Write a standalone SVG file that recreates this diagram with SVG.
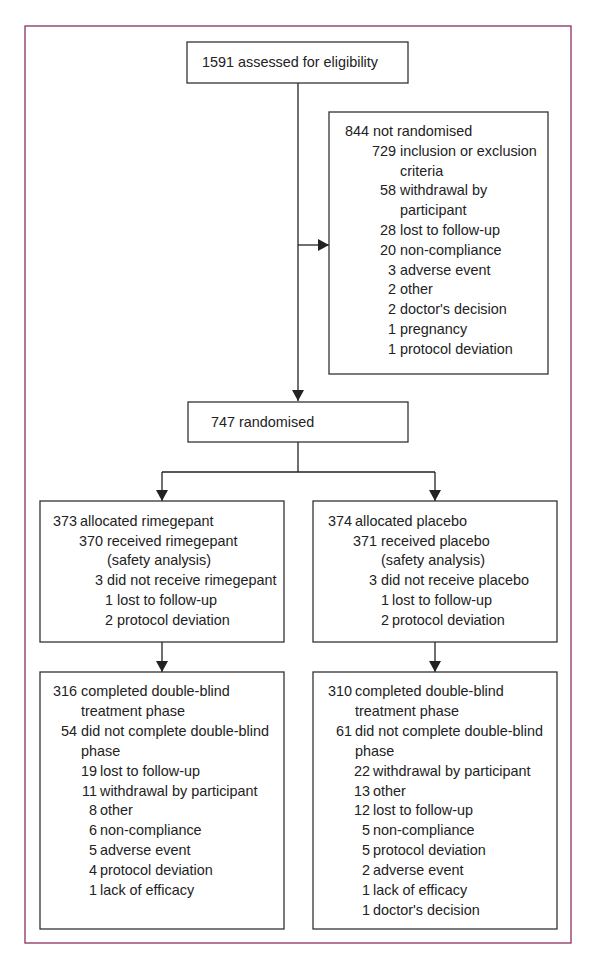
<svg xmlns="http://www.w3.org/2000/svg" width="590" height="955" viewBox="0 0 590 955">
<style>
.frame{fill:none;stroke:#8a2f62;stroke-width:1.3}
.box{fill:#fff;stroke:#333;stroke-width:1.3}
.ln{fill:none;stroke:#222;stroke-width:1.3}
text{font-family:"Liberation Sans",Arial,sans-serif;font-size:14.4px;fill:#222}
.n{text-anchor:end}
</style>
<defs>
<marker id="ah" markerUnits="userSpaceOnUse" markerWidth="12" markerHeight="12" refX="11" refY="6" orient="auto">
<path d="M0,0 L11,6 L0,12 Z" fill="#222"/>
</marker>
</defs>
<rect width="590" height="955" fill="#fff"/>
<rect class="frame" x="25" y="26" width="546" height="917"/>

<g id="connectors">
<line class="ln" x1="298" y1="83" x2="298" y2="401" marker-end="url(#ah)"/>
<line class="ln" x1="298" y1="245" x2="329" y2="245" marker-end="url(#ah)"/>
<line class="ln" x1="298" y1="442" x2="298" y2="472"/>
<line class="ln" x1="162" y1="472" x2="435" y2="472"/>
<line class="ln" x1="162" y1="472" x2="162" y2="501" marker-end="url(#ah)"/>
<line class="ln" x1="435" y1="472" x2="435" y2="501" marker-end="url(#ah)"/>
<line class="ln" x1="162" y1="642" x2="162" y2="672" marker-end="url(#ah)"/>
<line class="ln" x1="435" y1="642" x2="435" y2="672" marker-end="url(#ah)"/>
</g>

<g id="assessed">
<rect class="box" x="187" y="42" width="221" height="41"/>
<text x="202" y="67">1591 assessed for eligibility</text>
</g>

<g id="not-randomised">
<rect class="box" x="329" y="112" width="219" height="262"/>
<text class="n" x="369" y="136">844</text><text x="373" y="136">not randomised</text>
<text class="n" x="396" y="155.8">729</text><text x="400" y="155.8">inclusion or exclusion</text>
<text x="400" y="175.6">criteria</text>
<text class="n" x="396" y="195.4">58</text><text x="400" y="195.4">withdrawal by</text>
<text x="400" y="215.2">participant</text>
<text class="n" x="396" y="235">28</text><text x="400" y="235">lost to follow-up</text>
<text class="n" x="396" y="254.8">20</text><text x="400" y="254.8">non-compliance</text>
<text class="n" x="396" y="274.6">3</text><text x="400" y="274.6">adverse event</text>
<text class="n" x="396" y="294.4">2</text><text x="400" y="294.4">other</text>
<text class="n" x="396" y="314.2">2</text><text x="400" y="314.2">doctor's decision</text>
<text class="n" x="396" y="334">1</text><text x="400" y="334">pregnancy</text>
<text class="n" x="396" y="353.8">1</text><text x="400" y="353.8">protocol deviation</text>
</g>

<g id="randomised">
<rect class="box" x="188" y="402" width="220" height="40"/>
<text x="211" y="427">747 randomised</text>
</g>

<g id="rimegepant">
<rect class="box" x="40" y="501" width="244" height="141"/>
<text class="n" x="77" y="526">373</text><text x="80" y="526">allocated rimegepant</text>
<text class="n" x="103" y="545.7">370</text><text x="107" y="545.7">received rimegepant</text>
<text x="107" y="565.4">(safety analysis)</text>
<text class="n" x="103" y="585.1">3</text><text x="107" y="585.1">did not receive rimegepant</text>
<text class="n" x="113" y="604.8">1</text><text x="117" y="604.8">lost to follow-up</text>
<text class="n" x="113" y="624.5">2</text><text x="117" y="624.5">protocol deviation</text>
</g>

<g id="placebo">
<rect class="box" x="313" y="501" width="244" height="141"/>
<text class="n" x="352" y="526">374</text><text x="355" y="526">allocated placebo</text>
<text class="n" x="377" y="545.7">371</text><text x="381" y="545.7">received placebo</text>
<text x="381" y="565.4">(safety analysis)</text>
<text class="n" x="377" y="585.1">3</text><text x="381" y="585.1">did not receive placebo</text>
<text class="n" x="389" y="604.8">1</text><text x="392" y="604.8">lost to follow-up</text>
<text class="n" x="389" y="624.5">2</text><text x="392" y="624.5">protocol deviation</text>
</g>

<g id="rimegepant-completed">
<rect class="box" x="40" y="672" width="244" height="257"/>
<text class="n" x="77" y="696">316</text><text x="81" y="696">completed double-blind</text>
<text x="81" y="715.9">treatment phase</text>
<text class="n" x="77" y="735.8">54</text><text x="81" y="735.8">did not complete double-blind</text>
<text x="81" y="755.7">phase</text>
<text class="n" x="97" y="775.6">19</text><text x="100" y="775.6">lost to follow-up</text>
<text class="n" x="97" y="795.5">11</text><text x="100" y="795.5">withdrawal by participant</text>
<text class="n" x="97" y="815.4">8</text><text x="100" y="815.4">other</text>
<text class="n" x="97" y="835.3">6</text><text x="100" y="835.3">non-compliance</text>
<text class="n" x="97" y="855.2">5</text><text x="100" y="855.2">adverse event</text>
<text class="n" x="97" y="875.1">4</text><text x="100" y="875.1">protocol deviation</text>
<text class="n" x="97" y="895">1</text><text x="100" y="895">lack of efficacy</text>
</g>

<g id="placebo-completed">
<rect class="box" x="313" y="672" width="244" height="257"/>
<text class="n" x="352" y="696">310</text><text x="355" y="696">completed double-blind</text>
<text x="355" y="715.9">treatment phase</text>
<text class="n" x="352" y="735.8">61</text><text x="355" y="735.8">did not complete double-blind</text>
<text x="355" y="755.7">phase</text>
<text class="n" x="370" y="775.6">22</text><text x="373" y="775.6">withdrawal by participant</text>
<text class="n" x="370" y="795.5">13</text><text x="373" y="795.5">other</text>
<text class="n" x="370" y="815.4">12</text><text x="373" y="815.4">lost to follow-up</text>
<text class="n" x="370" y="835.3">5</text><text x="373" y="835.3">non-compliance</text>
<text class="n" x="370" y="855.2">5</text><text x="373" y="855.2">protocol deviation</text>
<text class="n" x="370" y="875.1">2</text><text x="373" y="875.1">adverse event</text>
<text class="n" x="370" y="895">1</text><text x="373" y="895">lack of efficacy</text>
<text class="n" x="370" y="914.9">1</text><text x="373" y="914.9">doctor's decision</text>
</g>
</svg>
